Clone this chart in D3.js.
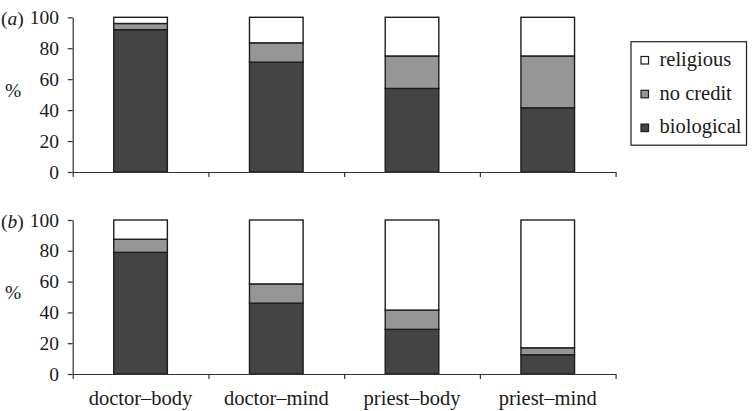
<!DOCTYPE html>
<html><head><meta charset="utf-8">
<script src="https://cdn.jsdelivr.net/npm/d3@7/dist/d3.min.js"></script>
<style>body{margin:0;background:#fff}svg{display:block}</style>
</head><body><svg id="c" width="752" height="411"></svg>
<script>
const categories = ["doctor–body","doctor–mind","priest–body","priest–mind"];
const seriesNames = ["biological","no credit","religious"];
const panelA_biological = [92, 71, 54, 41.5];
const panelA_noCredit   = [4, 12.5, 21, 33.5];
const panelA_religious  = [4, 16.5, 25, 25];
const panelB_biological = [79, 46, 29, 12.5];
const panelB_noCredit   = [8.5, 12.5, 12.5, 4.5];
const panelB_religious  = [12.5, 41.5, 58.5, 83];
const yTicks = [0,20,40,60,80,100];
const panelLabels = ["a","b"];

const colors = {"biological":"#444444","no credit":"#969696","religious":"#ffffff"};
const FONT = "Liberation Serif";
const svg = d3.select("#c");

function addText(g, x, y, str, anchor, size){
  return g.append("text").attr("x",x).attr("y",y)
    .attr("font-family",FONT).attr("fill","#1a1a1a")
    .attr("text-anchor",anchor||"start").attr("font-size",size||20).text(str);
}

const x = d3.scaleBand().domain(categories).range([72.7,615.6]).paddingInner(0).paddingOuter(0);
const xi = d3.scaleLinear().domain([0,categories.length]).range([72.7,615.6]);

const panels = [
  {label:panelLabels[0], top:17.3, bottom:172, data:[panelA_biological,panelA_noCredit,panelA_religious]},
  {label:panelLabels[1], top:220, bottom:374, data:[panelB_biological,panelB_noCredit,panelB_religious]}
];

panels.forEach((p,pi)=>{
  const y = d3.scaleLinear().domain([0,100]).range([p.bottom,p.top]);
  const g = svg.append("g");
  const rows = categories.map((c,i)=>{const o={cat:c}; seriesNames.forEach((s,k)=>o[s]=p.data[k][i]); return o;});
  const stack = d3.stack().keys(seriesNames)(rows);
  const bw = x.bandwidth()*0.395;
  stack.forEach(layer=>{
    g.selectAll(null).data(layer).enter().append("rect")
      .attr("x",d=>x(d.data.cat)+x.bandwidth()/2-bw/2)
      .attr("width",bw)
      .attr("y",d=>y(d[1]))
      .attr("height",d=>y(d[0])-y(d[1]))
      .attr("fill",colors[layer.key])
      .attr("stroke","#1e1e1e").attr("stroke-width",1.4);
  });
  const ya = g.append("g").attr("transform",`translate(72.7,0)`)
    .call(d3.axisLeft(y).tickValues(yTicks).tickSize(5).tickSizeOuter(0).tickFormat(""));
  ya.selectAll("path,line").attr("stroke","#333").attr("stroke-width",1.2);
  yTicks.forEach(v=>addText(g, 59, y(v)+6.5, String(v), "end", 19.5));
  const xa = g.append("g").attr("transform",`translate(0,${p.bottom})`)
    .call(d3.axisBottom(xi).tickValues(d3.range(categories.length+1)).tickSize(5).tickSizeOuter(0).tickFormat(""));
  xa.selectAll("path,line").attr("stroke","#333").attr("stroke-width",1.2);
  const pl = g.append("text").attr("x",1).attr("y",p.top+7.5).attr("font-size",19.5)
    .attr("font-family",FONT).attr("fill","#1a1a1a");
  pl.append("tspan").text("(");
  pl.append("tspan").attr("font-style","italic").text(p.label);
  pl.append("tspan").text(")");
  addText(g, 13, (p.top+p.bottom)/2+2, "%", "middle", 19.5);
  if(pi===1){
    categories.forEach(c=>addText(g, x(c)+x.bandwidth()/2, 405, c, "middle", 20.5));
  }
});

const lg = svg.append("g");
lg.append("rect").attr("x",631).attr("y",41.7).attr("width",115.5).attr("height",103.5)
  .attr("fill","#fff").attr("stroke","#1e1e1e").attr("stroke-width",1.2);
const legendOrder = ["religious","no credit","biological"];
legendOrder.forEach((s,i)=>{
  const cy = 60 + i*33.8;
  lg.append("rect").attr("x",641).attr("y",cy-3.5).attr("width",7.5).attr("height",7.5)
    .attr("fill",colors[s]).attr("stroke","#1e1e1e").attr("stroke-width",1.2);
  addText(lg, 659.5, cy+5.7, s, "start", 20.5);
});
</script></body></html>
